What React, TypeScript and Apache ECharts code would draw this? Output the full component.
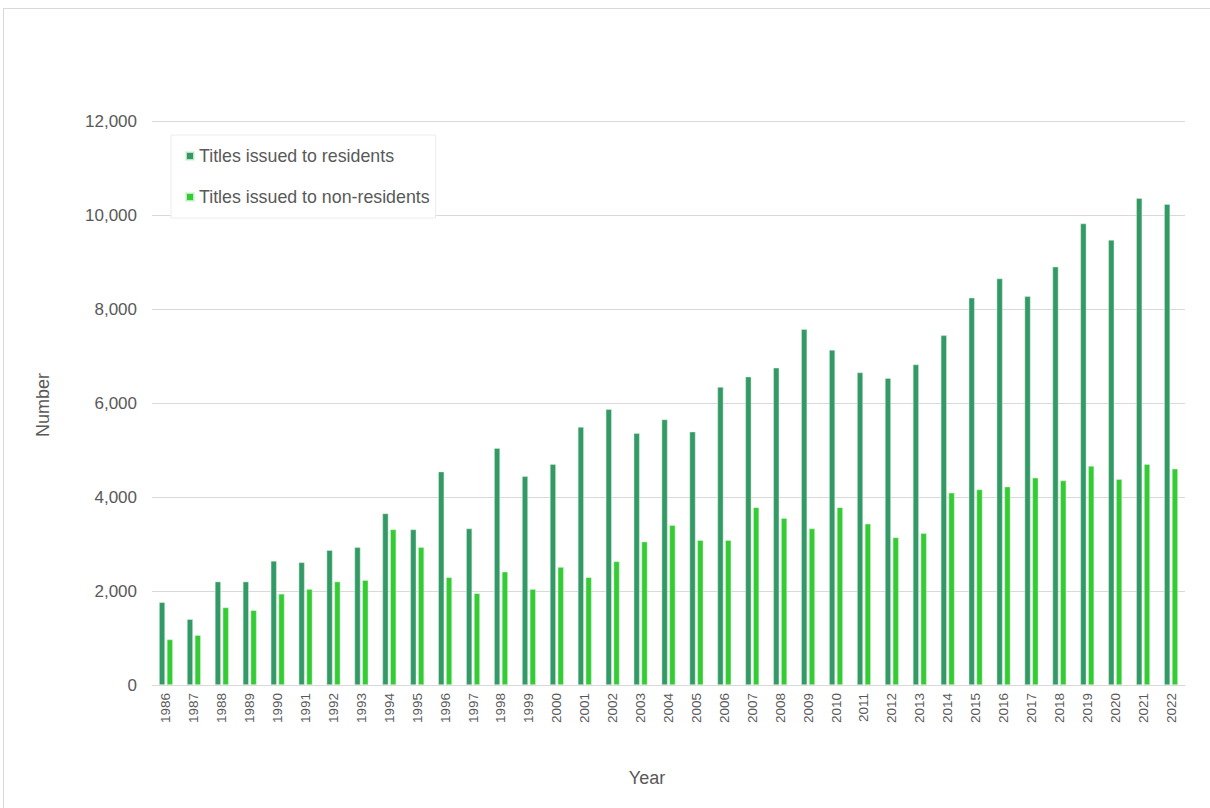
import React, { useEffect, useRef } from "react";
import * as echarts from "echarts";

const years = [
  "1986", "1987", "1988", "1989", "1990", "1991", "1992", "1993", "1994", "1995",
  "1996", "1997", "1998", "1999", "2000", "2001", "2002", "2003", "2004", "2005",
  "2006", "2007", "2008", "2009", "2010", "2011", "2012", "2013", "2014", "2015",
  "2016", "2017", "2018", "2019", "2020", "2021", "2022",
];

const residents = [
  1760, 1400, 2200, 2200, 2640, 2610, 2870, 2930, 3650, 3310,
  4540, 3330, 5040, 4440, 4700, 5490, 5870, 5360, 5650, 5390,
  6340, 6560, 6750, 7570, 7130, 6650, 6530, 6820, 7440, 8240,
  8650, 8270, 8900, 9820, 9470, 10360, 10230,
];

const nonResidents = [
  970, 1060, 1650, 1590, 1940, 2040, 2200, 2230, 3310, 2930,
  2290, 1950, 2410, 2040, 2510, 2290, 2630, 3050, 3400, 3080,
  3080, 3780, 3550, 3330, 3780, 3430, 3140, 3230, 4090, 4160,
  4220, 4410, 4350, 4660, 4380, 4700, 4600,
];

const seriesNames = ["Titles issued to residents", "Titles issued to non-residents"];
const xAxisTitle = "Year";
const yAxisTitle = "Number";

const FONT = "'Liberation Sans', Arial, sans-serif";
const TEXT = "#595959";

export default function App() {
  const ref = useRef<HTMLDivElement>(null);

  useEffect(() => {
    if (!ref.current) return;
    const chart = echarts.init(ref.current, undefined, { renderer: "svg" });
    chart.setOption({
      animation: false,
      textStyle: { fontFamily: FONT },
      grid: { left: 148, right: 25, top: 112, bottom: 123, containLabel: false },
      legend: {
        orient: "vertical",
        left: 167,
        top: 126,
        padding: [12, 6, 12, 14],
        itemGap: 23,
        itemWidth: 8,
        itemHeight: 8,
        icon: "rect",
        backgroundColor: "#ffffff",
        borderColor: "#ececec",
        borderWidth: 1,
        textStyle: { color: TEXT, fontSize: 17.8, fontFamily: FONT },
        data: seriesNames,
      },
      xAxis: {
        type: "category",
        data: years,
        axisLine: { show: true, lineStyle: { color: "#d9d9d9", width: 1 } },
        axisTick: { show: false },
        axisLabel: {
          rotate: 90,
          interval: 0,
          margin: 8,
          color: TEXT,
          fontSize: 13.5,
          fontFamily: FONT,
        },
      },
      yAxis: {
        type: "value",
        min: 0,
        max: 12000,
        interval: 2000,
        axisLine: { show: false },
        axisTick: { show: false },
        splitLine: { lineStyle: { color: "#d9d9d9", width: 1 } },
        axisLabel: {
          margin: 15,
          color: TEXT,
          fontSize: 17,
          fontFamily: FONT,
          formatter: (v: number) => v.toLocaleString("en-US"),
        },
      },
      graphic: [
        {
          type: "text",
          x: 39,
          y: 396,
          rotation: Math.PI / 2,
          style: {
            text: yAxisTitle,
            fill: TEXT,
            fontSize: 18,
            fontFamily: FONT,
            align: "center",
            verticalAlign: "middle",
          },
        },
        {
          type: "text",
          x: 643,
          y: 769,
          style: {
            text: xAxisTitle,
            fill: TEXT,
            fontSize: 18,
            fontFamily: FONT,
            align: "center",
            verticalAlign: "middle",
          },
        },
      ],
      series: [
        {
          name: seriesNames[0],
          type: "bar",
          data: residents,
          barWidth: 6,
          barGap: "30%",
          itemStyle: { color: "#339966", borderColor: "rgba(220,245,220,0.8)", borderWidth: 0.6 },
        },
        {
          name: seriesNames[1],
          type: "bar",
          data: nonResidents,
          barWidth: 6,
          barGap: "30%",
          itemStyle: { color: "#33cc33", borderColor: "rgba(220,245,220,0.8)", borderWidth: 0.6 },
        },
      ],
    });
    return () => chart.dispose();
  }, []);

  return (
    <div
      style={{
        position: "absolute",
        left: 3,
        top: 8,
        width: 1207,
        height: 800,
        borderTop: "1px solid #d9d9d9",
        borderLeft: "1px solid #d9d9d9",
        boxSizing: "border-box",
        background: "#fff",
      }}
    >
      <div ref={ref} style={{ width: 1206, height: 799 }} />
    </div>
  );
}
